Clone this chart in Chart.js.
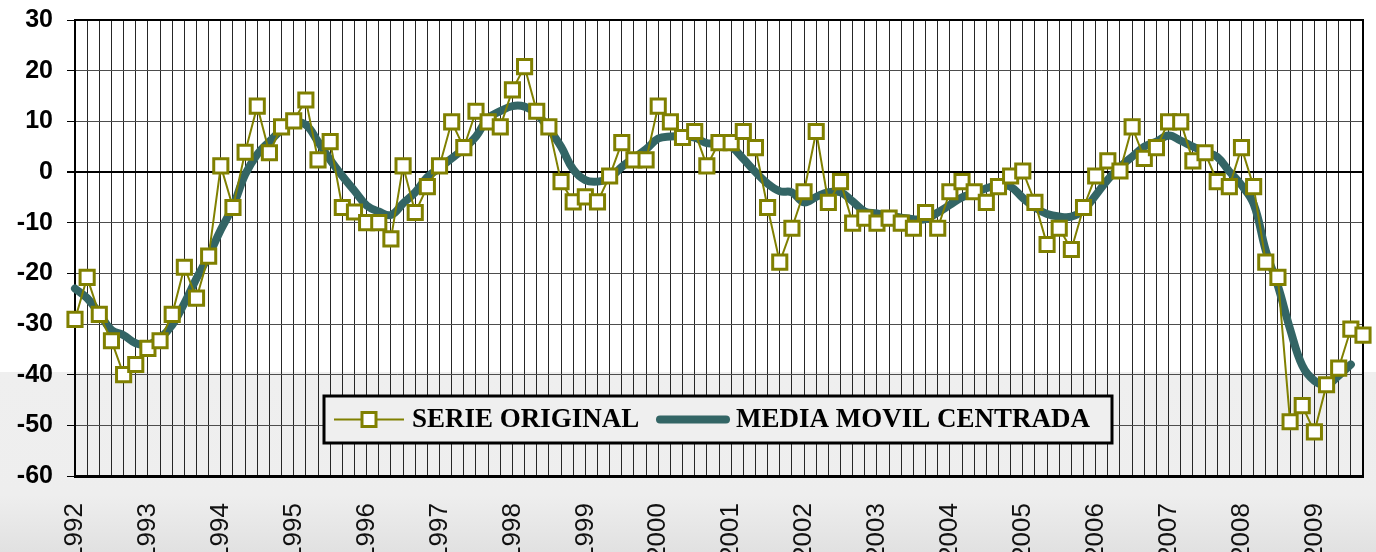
<!DOCTYPE html>
<html>
<head>
<meta charset="utf-8">
<script src="https://cdn.jsdelivr.net/npm/chart.js@4.4.1/dist/chart.umd.min.js"></script>
<style>
  html, body { margin: 0; padding: 0; }
  body {
    width: 1376px; height: 552px; overflow: hidden;
    background: linear-gradient(to bottom, #fff 0px, #fff 372px, #efefef 372px, #eeeeee 495px, #e1e1e1 552px);
  }
  canvas { display: block; }
</style>
</head>
<body>
<canvas id="grafica" width="1376" height="552"></canvas>
<script>
// Años que se muestran en el eje X (un dato cada dos meses)
const anios = ['1992','1993','1994','1995','1996','1997','1998','1999','2000',
               '2001','2002','2003','2004','2005','2006','2007','2008','2009'];
const bimestres = ['B1','B2','B3','B4','B5','B6'];

// Serie original
const serieOriginal = [
  -29.1,-20.8,-28.1,-33.3,-40.0,-38.0,-34.8,-33.3,-28.1,-18.8,
  -24.9,-16.6,1.2,-7.0,3.9,13.0,3.8,8.9,10.1,14.2,
  2.4,6.0,-7.0,-7.9,-10.0,-10.0,-13.2,1.2,-8.0,-2.9,
  1.2,9.9,4.8,12.0,9.9,8.9,16.2,20.8,12.0,8.9,
  -1.9,-5.9,-4.9,-5.9,-0.8,5.8,2.4,2.4,13.0,9.9,
  6.8,8.0,1.2,5.8,5.8,8.0,4.8,-7.0,-17.8,-11.1,
  -3.9,8.0,-6.0,-1.9,-10.1,-9.1,-10.1,-9.1,-10.1,-11.1,
  -8.0,-11.1,-3.9,-1.9,-3.9,-6.0,-2.9,-0.8,0.2,-6.0,
  -14.3,-11.1,-15.3,-7.0,-0.8,2.2,0.2,8.9,2.7,4.8,
  9.9,9.9,2.2,3.8,-1.9,-2.9,4.8,-2.9,-17.8,-20.8,
  -49.3,-46.1,-51.3,-42.0,-38.7,-31.0,-32.2
];

// Media móvil centrada
const mediaMovil = [
  -23.0,-24.9,-27.9,-31.2,-32.2,-33.8,-34.1,-32.8,-30.2,-25.9,
  -21.0,-16.5,-11.4,-6.8,-0.5,3.5,6.0,8.3,9.8,9.3,
  6.0,2.4,-0.8,-3.7,-6.6,-7.8,-8.5,-6.2,-4.0,-1.0,
  0.8,2.7,4.6,7.0,10.6,12.0,13.0,12.9,11.5,8.5,
  5.0,0.5,-1.6,-1.9,-1.2,1.0,2.8,4.5,6.6,7.0,
  7.0,6.8,5.7,5.7,5.0,2.6,0.0,-2.3,-3.8,-4.0,
  -6.0,-4.9,-4.0,-4.0,-5.8,-7.8,-8.2,-8.7,-9.0,-9.3,
  -9.3,-8.0,-6.5,-5.0,-4.2,-3.2,-2.6,-2.9,-5.1,-7.0,
  -8.3,-8.8,-8.8,-7.5,-4.6,-1.5,1.0,3.0,5.0,6.0,
  7.2,6.2,5.0,4.0,3.0,0.1,-2.6,-6.3,-15.5,-22.5,
  -31.0,-38.2,-41.2,-42.0,-40.2,-38.0,null
];

// Categorías: un punto por bimestre
const categorias = [];
anios.forEach(a => bimestres.forEach(b => categorias.push(a + ' ' + b)));
categorias.length = serieOriginal.length;

// Marco superior y derecho del área del gráfico
const marco = {
  id: 'marco',
  beforeDatasetsDraw(chart) {
    const { ctx, chartArea: a } = chart;
    ctx.save();
    ctx.strokeStyle = '#000';
    ctx.lineWidth = 2;
    ctx.beginPath();
    ctx.moveTo(a.left, a.top);
    ctx.lineTo(a.right, a.top);
    ctx.lineTo(a.right, a.bottom);
    ctx.stroke();
    ctx.restore();
  }
};

// Leyenda con recuadro dentro del gráfico
const leyenda = {
  id: 'leyenda',
  afterDraw(chart) {
    const ctx = chart.ctx;
    const y = 419.5;
    ctx.save();
    ctx.fillStyle = '#efefef';
    ctx.fillRect(324, 396, 788, 47);
    ctx.strokeStyle = '#000';
    ctx.lineWidth = 3;
    ctx.strokeRect(324, 396, 788, 47);

    // muestra serie original
    ctx.strokeStyle = '#808000';
    ctx.lineWidth = 2;
    ctx.beginPath(); ctx.moveTo(334, y); ctx.lineTo(404, y); ctx.stroke();
    ctx.fillStyle = '#fff';
    ctx.lineWidth = 3;
    ctx.fillRect(362, y - 7, 14, 14);
    ctx.strokeRect(362, y - 7, 14, 14);

    // muestra media móvil
    ctx.strokeStyle = '#336565';
    ctx.lineWidth = 8;
    ctx.lineCap = 'round';
    ctx.beginPath(); ctx.moveTo(660, y); ctx.lineTo(726, y); ctx.stroke();

    ctx.fillStyle = '#000';
    ctx.font = 'bold 27px "Liberation Serif"';
    ctx.textBaseline = 'middle';
    ctx.fillText('SERIE ORIGINAL', 412, y + 1);
    ctx.fillText('MEDIA MOVIL CENTRADA', 736, y + 1);
    ctx.restore();
  }
};

new Chart(document.getElementById('grafica'), {
  type: 'line',
  data: {
    labels: categorias,
    datasets: [{
      label: 'SERIE ORIGINAL',
      data: serieOriginal,
      borderColor: '#808000',
      borderWidth: 2,
      pointStyle: 'rect',
      pointRadius: 10,
      pointHoverRadius: 10,
      pointBorderWidth: 3,
      pointBackgroundColor: '#fff',
      pointBorderColor: '#808000',
      tension: 0,
      clip: false
    }, {
      label: 'MEDIA MOVIL CENTRADA',
      data: mediaMovil,
      borderColor: '#336565',
      borderWidth: 8,
      borderCapStyle: 'round',
      borderJoinStyle: 'round',
      pointRadius: 0,
      tension: 0.4,
      clip: false
    }]
  },
  options: {
    responsive: false,
    animation: false,
    events: [],
    layout: { padding: { top: 20, right: 9, left: 0, bottom: 0 } },
    plugins: { legend: { display: false }, tooltip: { enabled: false } },
    scales: {
      x: {
        afterFit: s => {
          s.height = 76;
          s.paddingLeft = 0;
          s.paddingRight = 0;
        },
        grid: { color: '#262626', lineWidth: 1, drawTicks: false },
        border: { color: '#000', width: 3 },
        ticks: {
          autoSkip: false,
          minRotation: 90,
          maxRotation: 90,
          padding: 27,
          color: '#111',
          font: { family: '"Liberation Sans"', size: 26 },
          callback: (v, i) => i % 6 === 0 ? anios[i / 6] : ''
        }
      },
      y: {
        min: -60,
        max: 30,
        afterFit: s => {
          s.width = 75;
          s.paddingTop = 0;
          s.paddingBottom = 0;
        },
        grid: {
          color: c => c.tick.value === 0 ? '#000' : '#4d4d4d',
          lineWidth: c => c.tick.value === 0 ? 2 : 1,
          tickLength: 8,
          tickColor: '#000'
        },
        border: { color: '#000', width: 2 },
        ticks: {
          stepSize: 10,
          padding: 14,
          color: '#000',
          font: { family: '"Liberation Sans"', size: 25, weight: 'bold' }
        }
      }
    }
  },
  plugins: [marco, leyenda]
});
</script>
</body>
</html>
